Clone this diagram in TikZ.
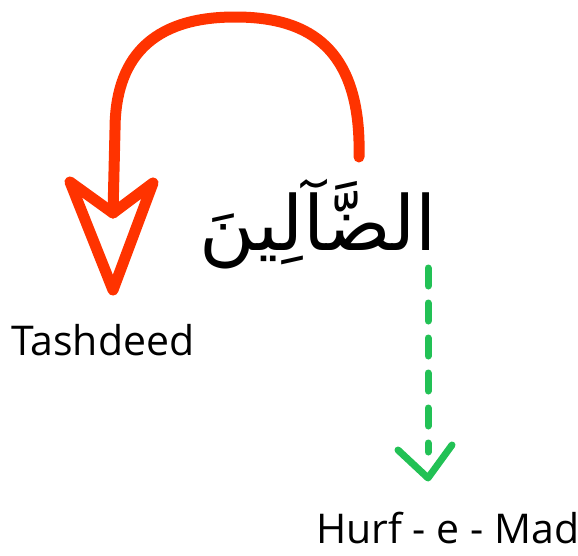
\documentclass[tikz,border=0pt]{standalone}
\usepackage{fontspec}
\setmainfont{Open Sans}
\newfontfamily\arabicfont[Script=Arabic]{DejaVu Sans}
\TeXXeTstate=1
\definecolor{arrowred}{HTML}{FF3300}
\definecolor{arrowgreen}{HTML}{22C155}
\begin{document}
\begin{tikzpicture}[x=1pt,y=-1pt,
  redline/.style={draw=arrowred,line width=11pt,line cap=round,line join=round},
  greenline/.style={draw=arrowgreen,line width=7pt,line cap=round,line join=round},
  label/.style={inner sep=0pt,anchor=base west,font=\fontsize{41}{49}\selectfont}]
\useasboundingbox (0,0) rectangle (578,555);
\node[inner sep=0pt] (word) at (318,224) {\fontsize{76}{90}\selectfont\arabicfont\beginR الضَّآلِينَ\endR};
\node[label] (tash) at (11,355) {Tashdeed};
\node[label] (hurf) at (316,543) {Hurf - e - Mad};
\coordinate (rstart) at (359,157);
\coordinate (rnotch) at (113,213);
\coordinate (rleft) at (70,182);
\coordinate (rright) at (153,183);
\coordinate (rtip) at (113,290);
\draw[redline] (rstart) .. controls (362,40) and (300,17) .. (235,17)
  .. controls (150,17) and (115,60) .. (115,130) -- (rnotch);
\draw[redline] (rnotch) -- (rleft) -- (rtip) -- (rright) -- cycle;
\coordinate (gstart) at (428,268);
\coordinate (gend) at (428,452);
\coordinate (gleft) at (398,450);
\coordinate (gtip) at (428,478);
\coordinate (gright) at (452,445);
\draw[greenline,dash pattern=on 18pt off 17pt] (gstart) -- (gend);
\draw[greenline] (gleft) -- (gtip) -- (gright);
\end{tikzpicture}
\end{document}
